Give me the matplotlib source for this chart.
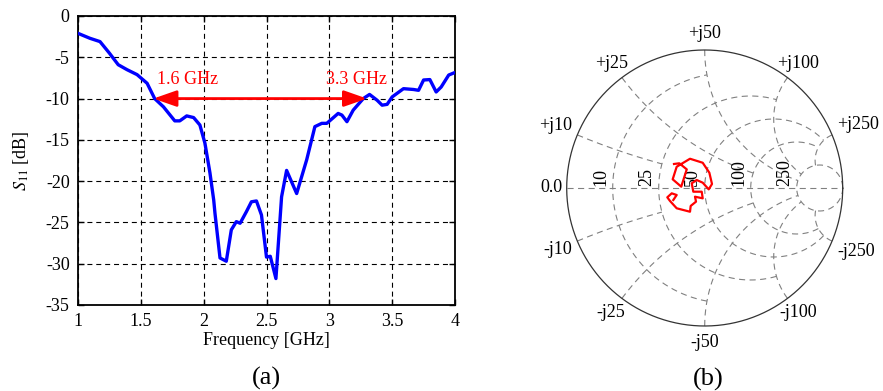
import numpy as np
import matplotlib
matplotlib.use('Agg')
import matplotlib.pyplot as plt
from matplotlib.ticker import MultipleLocator, FuncFormatter
from matplotlib.patches import ArrowStyle

plt.rcParams['font.family'] = ['Liberation Serif', 'DejaVu Serif']
plt.rcParams['mathtext.fontset'] = 'stix'

# ---------------- data ----------------
freq_ghz = [1.0, 1.095, 1.175, 1.25, 1.32, 1.39, 1.47, 1.55, 1.61, 1.68,
            1.77, 1.81, 1.865, 1.92, 1.97, 2.01, 2.05, 2.08, 2.09, 2.13,
            2.18, 2.22, 2.26, 2.29, 2.34, 2.38, 2.42, 2.46, 2.50, 2.53,
            2.575, 2.62, 2.66, 2.74, 2.82, 2.885, 2.94, 2.98, 3.07, 3.10,
            3.14, 3.19, 3.27, 3.32, 3.38, 3.42, 3.46, 3.50, 3.59, 3.67,
            3.71, 3.75, 3.80, 3.85, 3.89, 3.95, 3.99]
s11_db = [-2.1, -2.7, -3.1, -4.5, -5.9, -6.5, -7.1, -8.15, -10.0, -11.0,
          -12.7, -12.7, -12.1, -12.3, -13.2, -15.4, -19.0, -22.3, -23.9, -29.3,
          -29.7, -25.9, -24.9, -25.1, -23.7, -22.5, -22.4, -24.1, -29.2, -29.1,
          -31.8, -21.9, -18.7, -21.5, -17.4, -13.4, -13.0, -13.0, -11.8, -12.0,
          -12.8, -11.4, -10.0, -9.5, -10.2, -10.8, -10.7, -9.8, -8.8, -8.9,
          -9.0, -7.75, -7.7, -9.2, -8.6, -7.15, -6.9]

band_edges_ghz = [1.6, 3.3]
band_level_db = -10
band_labels = ['1.6 GHz', '3.3 GHz']

x_ticks_a = [1, 1.5, 2, 2.5, 3, 3.5, 4]
y_ticks_a = [0, -5, -10, -15, -20, -25, -30, -35]

# reflection coefficient (Smith chart trace)
gamma_re = [-0.2225, -0.184, -0.130, -0.170, -0.232, -0.203, -0.1065, -0.0145, 0.0336, 0.0529,
            0.029, -0.0145, -0.058, -0.094, -0.0826, -0.0217, -0.0145, -0.0703, -0.063, -0.1015,
            -0.1065, -0.203, -0.2514, -0.271, -0.239, -0.203, -0.2275]
gamma_im = [0.174, 0.179, 0.135, 0.0097, 0.063, 0.154, 0.212, 0.183, 0.111, 0.029,
            -0.0097, 0.0386, 0.058, 0.034, -0.0268, -0.0268, -0.0749, -0.063, -0.099, -0.130,
            -0.172, -0.147, -0.094, -0.0676, -0.0386, -0.0507, -0.087]

z0 = 50
r_ticks = [0.2, 0.5, 1, 2, 5]        # normalised resistance circles
x_ticks = [0.2, 0.5, 1, 2, 5]        # normalised reactance arcs

# ---------------- figure ----------------
W, H = 883, 391
fig = plt.figure(figsize=(W / 100, H / 100), dpi=100)
FS = 13

# ----- (a) S11 -----
ax = fig.add_axes([78 / W, 1 - 305 / H, (455 - 78) / W, (305 - 16) / H])
ax.plot(freq_ghz, s11_db, color='#0000ff', lw=2.4, solid_joinstyle='round', zorder=3)
ax.set_xlim(1, 4)
ax.set_ylim(-35, 0)
ax.set_xticks(x_ticks_a)
ax.set_yticks(y_ticks_a)
fmt = FuncFormatter(lambda v, p: '%g' % v)
ax.xaxis.set_major_formatter(fmt)
ax.yaxis.set_major_formatter(fmt)
ax.tick_params(direction='in', length=4, width=1, labelsize=FS, pad=6,
               top=True, right=True)
ax.grid(True, color='black', lw=0.8, linestyle=(0, (4.5, 3.5)))
for sp in ax.spines.values():
    sp.set_linewidth(1.3)
ax.set_xlabel('Frequency [GHz]', fontsize=FS)
ax.xaxis.set_label_coords(0.5, -0.095)
ax.set_ylabel(r'$S_{11}$ [dB]', fontsize=FS)
ax.yaxis.set_label_coords(-0.125, 0.5)

ax.annotate('', xy=(band_edges_ghz[0], band_level_db),
            xytext=(band_edges_ghz[1], band_level_db),
            arrowprops=dict(arrowstyle=ArrowStyle('<|-|>', head_length=1.0, head_width=0.35),
                            mutation_scale=14, color='red', lw=2, shrinkA=0, shrinkB=0),
            zorder=4)
ax.text(band_edges_ghz[0] + 0.03, band_level_db + 2.25, band_labels[0], color='red',
        fontsize=FS, ha='left', va='center', zorder=5)
ax.text(band_edges_ghz[1] + 0.16, band_level_db + 2.25, band_labels[1], color='red',
        fontsize=FS, ha='right', va='center', zorder=5)

fig.text(266 / W, 1 - 378 / H, '(a)', fontsize=19, ha='center', va='center')
fig.text(708 / W, 1 - 379 / H, '(b)', fontsize=19, ha='center', va='center')

# ----- (b) Smith chart -----
cx, cy, R = 704.7, 188.0, 138.0
bx0, bx1, by0, by1 = 520, 883, 5, 360
ax2 = fig.add_axes([bx0 / W, 1 - by1 / H, (bx1 - bx0) / W, (by1 - by0) / H])
ax2.set_xlim((bx0 - cx) / R, (bx1 - cx) / R)
ax2.set_ylim((cy - by1) / R, (cy - by0) / R)
ax2.axis('off')

grid_kw = dict(color='#808080', lw=0.8, linestyle=(0, (5.5, 4.0)), zorder=1)
r_extent = [1, 2, 5, 5, np.inf]     # reactance limit of each resistance circle
x_extent = [0.5, 2, 5, 5, 5]        # resistance limit of each reactance arc


def gamma(z):
    return (z - 1) / (z + 1)


def lim_angle(v):
    return np.arctan(v) if np.isfinite(v) else np.pi / 2 - 1e-5


for r, xm in zip(r_ticks, r_extent):
    s = np.linspace(-lim_angle(xm), lim_angle(xm), 1200)
    g = gamma(r + 1j * np.tan(s))
    ax2.plot(g.real, g.imag, **grid_kw)

for xv, rm in zip(x_ticks, x_extent):
    s = np.linspace(0, lim_angle(rm), 800)
    for sgn in (1, -1):
        g = gamma(np.tan(s) + 1j * sgn * xv)
        ax2.plot(g.real, g.imag, **grid_kw)

ax2.plot([-1, 1], [0, 0], **grid_kw)
th = np.linspace(0, 2 * np.pi, 720)
ax2.plot(np.cos(th), np.sin(th), color='#333333', lw=0.9, zorder=2)

ax2.plot(gamma_re, gamma_im, color='red', lw=1.6, zorder=4)

# real-axis labels (rotated)
for r in r_ticks:
    g = gamma(r)
    ax2.text(g.real - 0.025, 0.012, '%d' % round(r * z0), rotation=90,
             ha='right', va='bottom', fontsize=FS, zorder=3)

# imaginary labels around the rim
fig.canvas.draw()
renderer = fig.canvas.get_renderer()
labels = [(0.0, '0.0')]
for xv in x_ticks:
    labels.append((xv, '+j%d' % round(xv * z0)))
    labels.append((-xv, '-j%d' % round(xv * z0)))
for xv, txt in labels:
    g = gamma(1j * xv) if xv != 0 else -1 + 0j
    t = ax2.text(0, 0, txt, fontsize=FS, ha='center', va='center')
    bb = t.get_window_extent(renderer)
    w2, h2 = bb.width / 2, bb.height / 2
    ang = np.angle(g)
    c, s_ = abs(np.cos(ang)), abs(np.sin(ang))
    dist = min(w2 / c if c > 1e-6 else 1e9, h2 / s_ if s_ > 1e-6 else 1e9)
    d = 4.5 + 3.5 * s_
    k = 1 + (d + dist) / R
    t.set_position((g.real * k, g.imag * k))

fig.savefig('out.png', dpi=100)
